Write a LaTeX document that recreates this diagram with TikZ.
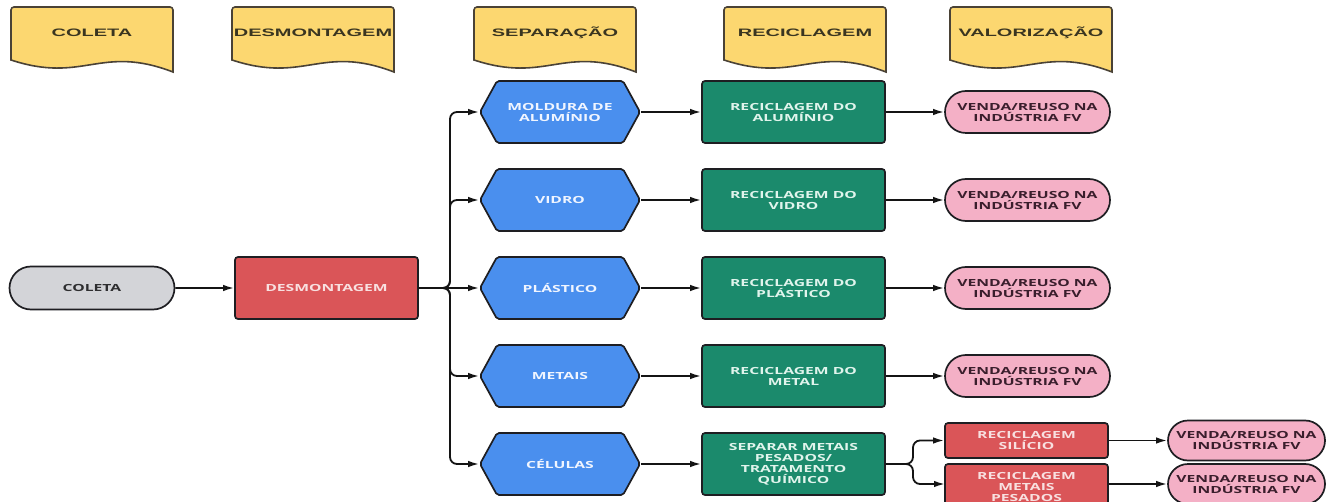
\documentclass[tikz,border=0pt]{standalone}
\usepackage{fontspec}
\usetikzlibrary{arrows.meta,shapes.misc}
\newfontfamily\hdrfont[FakeStretch=1.85]{Liberation Sans}
\newfontfamily\nodefont[FakeStretch=1.6]{Open Sans}
\definecolor{hdrfill}{HTML}{FCD770}
\definecolor{hdrdraw}{HTML}{4A4236}
\definecolor{hdrtxt}{HTML}{3A3520}
\definecolor{grayfill}{HTML}{D3D4D8}
\definecolor{graytxt}{HTML}{2E2E30}
\definecolor{redfill}{HTML}{DA5558}
\definecolor{redtxt}{HTML}{F8E0E0}
\definecolor{bluefill}{HTML}{4A8FEE}
\definecolor{bluetxt}{HTML}{F0F5FF}
\definecolor{greenfill}{HTML}{1B8A6C}
\definecolor{greentxt}{HTML}{E0F4EC}
\definecolor{pinkfill}{HTML}{F4B0C6}
\definecolor{pinktxt}{HTML}{3A1E2C}
\definecolor{nodedraw}{HTML}{1E1E22}
\definecolor{linecol}{HTML}{141414}
\tikzset{
  hdr/.style={draw=hdrdraw, fill=hdrfill, line width=1.6pt},
  hdrtext/.style={font=\hdrfont\bfseries\fontsize{10.8}{12}\selectfont, text=hdrtxt, inner sep=0pt},
  base/.style={font=\nodefont\bfseries\fontsize{9.8}{11}\selectfont, align=center,
    line width=1.7pt, draw=nodedraw, inner sep=0pt},
  term/.style={base, rounded rectangle, fill=grayfill, text=graytxt,
    minimum width=165pt, minimum height=43pt},
  redbox/.style={base, rectangle, rounded corners=3pt, fill=redfill, text=redtxt},
  greenbox/.style={base, rectangle, rounded corners=3pt, fill=greenfill, text=greentxt,
    minimum width=183pt, minimum height=62pt},
  hextext/.style={base, draw=none, text=bluetxt, minimum width=160pt, minimum height=62pt},
  hexshape/.style={fill=bluefill, draw=nodedraw, line width=1.7pt, rounded corners=2pt},
  pinkend/.style={base, rounded rectangle, fill=pinkfill, text=pinktxt,
    minimum width=165pt, minimum height=42pt},
  conn/.style={draw=linecol, line width=1.8pt, -{Latex[length=11pt,width=6.5pt]}},
}
% header: name, left x, text
\newcommand\hdrbox[3]{%
  \draw[hdr] (#2,60) [rounded corners=3pt] -- (#2,7) -- (#2+162,7) [sharp corners] -- (#2+162,72)
    .. controls (#2+89,44) and (#2+73,84) .. (#2,60) -- cycle;
  \node[hdrtext] (#1) at (#2+81,33) {#3};}
% hexagon: name, centre y, text
\newcommand\hexbox[3]{%
  \draw[hexshape] (480,#2) -- (497,#2-31) -- (623,#2-31) -- (640,#2) -- (623,#2+31) -- (497,#2+31) -- cycle;
  \node[hextext] (#1) at (560,#2) {#3};}
\begin{document}
\begin{tikzpicture}[x=1pt,y=-1pt]
\useasboundingbox (0,0) rectangle (1337,502);
\clip (0,0) rectangle (1337,502);
\fill[white] (0,0) rectangle (1337,502);

% headers
\hdrbox{hA}{11}{COLETA}
\hdrbox{hB}{232}{DESMONTAGEM}
\hdrbox{hC}{474}{SEPARAÇÃO}
\hdrbox{hD}{724}{RECICLAGEM}
\hdrbox{hE}{950}{VALORIZAÇÃO}

% main chain
\node[term] (coleta) at (92,288) {COLETA};
\node[redbox, minimum width=183pt, minimum height=62pt] (desm) at (326.5,288) {DESMONTAGEM};

\hexbox{s1}{112}{MOLDURA DE\\ALUMÍNIO}
\hexbox{s2}{200}{VIDRO}
\hexbox{s3}{288}{PLÁSTICO}
\hexbox{s4}{376}{METAIS}
\hexbox{s5}{464}{CÉLULAS}

\node[greenbox] (g1) at (793.5,112) {RECICLAGEM DO\\ALUMÍNIO};
\node[greenbox] (g2) at (793.5,200) {RECICLAGEM DO\\VIDRO};
\node[greenbox] (g3) at (793.5,288) {RECICLAGEM DO\\PLÁSTICO};
\node[greenbox] (g4) at (793.5,376) {RECICLAGEM DO\\METAL};
\node[greenbox] (g5) at (793.5,464) {SEPARAR METAIS\\PESADOS/\\TRATAMENTO\\QUÍMICO};

\node[pinkend] (p1) at (1027.5,112) {VENDA/REUSO NA\\INDÚSTRIA FV};
\node[pinkend] (p2) at (1027.5,200) {VENDA/REUSO NA\\INDÚSTRIA FV};
\node[pinkend] (p3) at (1027.5,288) {VENDA/REUSO NA\\INDÚSTRIA FV};
\node[pinkend] (p4) at (1027.5,376) {VENDA/REUSO NA\\INDÚSTRIA FV};

\node[redbox, minimum width=163pt, minimum height=35pt] (r1) at (1026.5,440.5) {RECICLAGEM\\SILÍCIO};
\node[redbox, minimum width=163pt, minimum height=46pt] (r2) at (1026.5,487) {RECICLAGEM\\METAIS\\PESADOS};

\node[pinkend, minimum width=157pt, minimum height=40pt] (q1) at (1246.5,440.5) {VENDA/REUSO NA\\INDÚSTRIA FV};
\node[pinkend, minimum width=157pt, minimum height=40pt] (q2) at (1246.5,484) {VENDA/REUSO NA\\INDÚSTRIA FV};

% connectors
\draw[conn] (coleta) -- (desm);
\coordinate (j) at (450,288);
\draw[conn, rounded corners=7pt] (desm.east) -- (j) |- (s1.west);
\draw[conn, rounded corners=7pt] (desm.east) -- (j) |- (s2.west);
\draw[conn] (desm.east) -- (s3.west);
\draw[conn, rounded corners=7pt] (desm.east) -- (j) |- (s4.west);
\draw[conn, rounded corners=7pt] (desm.east) -- (j) |- (s5.west);

\foreach \i in {1,...,5} {\draw[conn] (s\i.east) -- (g\i.west);}
\foreach \i in {1,...,4} {\draw[conn] (g\i.east) -- (p\i.west);}

\coordinate (b) at (913,464);
\coordinate (r2in) at (945,484);
\draw[conn, rounded corners=7pt] (g5.east) -- (b) |- (r1.west);
\draw[conn, rounded corners=7pt] (g5.east) -- (b) |- (r2in);
\draw[conn] (r1.east) -- (q1.west);
\draw[conn] (r2.east |- q2.west) -- (q2.west);
\end{tikzpicture}
\end{document}
